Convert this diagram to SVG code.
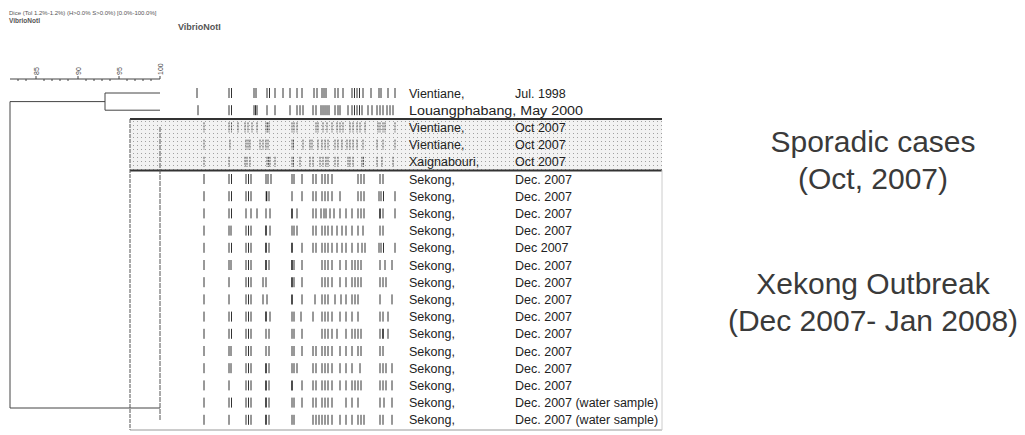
<svg xmlns="http://www.w3.org/2000/svg" width="1025" height="435" viewBox="0 0 1025 435">
<style>
.lbl{font-family:"Liberation Sans",Arial,sans-serif;font-size:12.5px;fill:#222}
.big{font-family:"Liberation Sans",Arial,sans-serif;font-size:30px;fill:#3a3a3a;text-anchor:middle}
.hdr{font-family:"Liberation Sans",Arial,sans-serif;fill:#555}
.ax{font-family:"Liberation Sans",Arial,sans-serif;font-size:7px;fill:#444}
.b{stroke:#333;stroke-width:1;fill:none}
.bt{stroke:#222;stroke-width:1.6;fill:none}
.bs{stroke:#555;stroke-width:1;fill:none;stroke-dasharray:2 1}
.ln{stroke:#444;stroke-width:1;fill:none}
</style>
<defs>
<pattern id="dots" width="4" height="4" patternUnits="userSpaceOnUse">
<rect width="4" height="4" fill="#f2f2f2"/>
<rect x="1" y="1" width="1" height="1" fill="#a0a0a0"/>
</pattern>
</defs>
<rect width="1025" height="435" fill="#fff"/>
<g id="header">
<text class="hdr" x="9" y="15" font-size="6">Dice (Tol 1.2%-1.2%) (H&gt;0.0% S&gt;0.0%) [0.0%-100.0%]</text>
<text class="hdr" x="9" y="23" font-size="6.5" font-weight="bold" fill="#333">VibrioNotI</text>
<text class="hdr" x="178" y="30" font-size="9" font-weight="bold" fill="#333">VibrioNotI</text>
</g>
<g id="axis">
<path class="ln" d="M10 79H160M36 79v-3M78 79v-3M119 79v-3M160 79v-3M18 79v2M26 79v2M44 79v2M52 79v2M60 79v2M68 79v2M86 79v2M94 79v2M102 79v2M110 79v2M127 79v2M135 79v2M143 79v2M151 79v2"/>
<text class="ax" transform="translate(38.5,75) rotate(-90)">85</text>
<text class="ax" transform="translate(80.5,75) rotate(-90)">90</text>
<text class="ax" transform="translate(121.5,75) rotate(-90)">95</text>
<text class="ax" transform="translate(162.5,75) rotate(-90)">100</text>
</g>
<g id="sporadic-box">
<rect x="130" y="119" width="532" height="51.4" fill="url(#dots)"/>
<path d="M130 119H662M130 170.4H662" stroke="#333" stroke-width="2"/>
</g>
<g id="frame">
<path d="M130 119V430" stroke="#555" stroke-width="1" stroke-dasharray="4 1"/>
<path d="M130 430H662" stroke="#999" stroke-width="1.2"/>
<path d="M662 170V430" stroke="#ccc" stroke-width="1"/>
</g>
<g id="connectors">
<path class="ln" d="M105 93H160M105 110.2H160M105 93V110.2M10 101.6H105M10 101.6V408M10 408H160"/>
<path d="M160 127V420" stroke="#555" stroke-width="1" stroke-dasharray="5 1"/>
</g>
<g id="bands">
<g transform="translate(0,93)"><path class="b" d="M197-5v10M229-5v10M231.5-5v10M254-5v10M256-5v10M267-5v10M269.5-5v10M275-5v10M283-5v10M290-5v10M297-5v10M302-5v10M314-5v10M317-5v10M322-5v10M324-5v10M326-5v10M335-5v10M338-5v10M343-5v10M352-5v10M354.5-5v10M357-5v10M359.5-5v10M363-5v10M371-5v10M379-5v10M381-5v10M388-5v10M395-5v10"/></g>
<g transform="translate(0,110.2)"><path class="b" d="M198-5v10M229-5v10M231.5-5v10M254-5v10M255.5-5v10M257-5v10M267-5v10M275-5v10M290-5v10M297-5v10M300-5v10M303-5v10M313-5v10M316-5v10M321-5v10M323-5v10M325-5v10M327-5v10M329-5v10M335-5v10M338-5v10M340-5v10M348-5v10M352-5v10M354.5-5v10M357-5v10M359.5-5v10M362-5v10M368-5v10M372-5v10M377-5v10M380-5v10M383-5v10M387-5v10M390-5v10M393-5v10"/></g>
<g transform="translate(0,127.4)"><path class="bs" d="M204-5v10M229-5v10M231.5-5v10M238-5v10M245-5v10M248-5v10M252-5v10M257-5v10M266-5v10M267.5-5v10M269-5v10M292-5v10M294-5v10M297-5v10M316-5v10M318-5v10M323-5v10M327-5v10M332-5v10M337-5v10M340-5v10M343-5v10M350-5v10M353-5v10M357-5v10M360-5v10M365-5v10M378-5v10M380-5v10M383-5v10M385-5v10M395-5v10"/></g>
<g transform="translate(0,144.6)"><path class="bs" d="M204-5v10M230-5v10M246-5v10M248-5v10M250-5v10M260-5v10M263-5v10M266-5v10M268-5v10M292-5v10M293.5-5v10M303-5v10M310-5v10M312-5v10M318-5v10M322-5v10M325-5v10M328-5v10M335-5v10M338-5v10M342-5v10M347-5v10M350-5v10M353-5v10M357-5v10M363-5v10M377-5v10M383-5v10M395-5v10"/></g>
<g transform="translate(0,161.8)"><path class="bs" d="M204-5v10M229-5v10M245-5v10M247-5v10M250-5v10M267-5v10M268.5-5v10M270-5v10M275-5v10M292-5v10M293.5-5v10M300-5v10M310-5v10M313-5v10M320-5v10M323-5v10M326-5v10M328-5v10M335-5v10M338-5v10M348-5v10M350-5v10M353-5v10M362-5v10M363.5-5v10M377-5v10M382-5v10M393-5v10"/></g>
<g transform="translate(0,179)"><path class="b" d="M204-5v10M229-5v10M231.5-5v10M246-5v10M248.5-5v10M251-5v10M266-5v10M268-5v10M271-5v10M292-5v10M294-5v10M302-5v10M313-5v10M316-5v10M322-5v10M325-5v10M328-5v10M332-5v10M358-5v10M361-5v10M364-5v10M380-5v10M383-5v10"/></g>
<g transform="translate(0,196.2)"><path class="b" d="M204-5v10M229-5v10M231.5-5v10M246-5v10M248.5-5v10M251-5v10M269-5v10M292-5v10M302-5v10M313-5v10M316-5v10M322-5v10M325-5v10M328-5v10M332-5v10M340-5v10M358-5v10M361-5v10M364-5v10M379-5v10M381-5v10M383.5-5v10M395-5v10"/><path class="bt" d="M266.5-5v10"/></g>
<g transform="translate(0,213.4)"><path class="b" d="M204-5v10M229-5v10M231.5-5v10M246-5v10M251-5v10M257-5v10M266-5v10M270-5v10M297-5v10M313-5v10M316-5v10M321-5v10M324-5v10M326-5v10M330-5v10M334-5v10M340-5v10M346-5v10M352-5v10M358-5v10M361-5v10M364-5v10M383-5v10M395-5v10"/><path class="bt" d="M292-5v10M380-5v10"/></g>
<g transform="translate(0,230.6)"><path class="b" d="M204-5v10M229-5v10M231-5v10M246-5v10M248.5-5v10M251-5v10M270-5v10M292-5v10M294-5v10M297-5v10M313-5v10M316-5v10M322-5v10M325-5v10M328-5v10M332-5v10M337-5v10M342-5v10M346-5v10M352-5v10M358-5v10M363-5v10M380-5v10M383-5v10"/><path class="bt" d="M266-5v10"/></g>
<g transform="translate(0,247.8)"><path class="b" d="M204-5v10M229-5v10M231.5-5v10M246-5v10M248.5-5v10M251-5v10M269-5v10M302-5v10M313-5v10M316-5v10M322-5v10M325-5v10M328-5v10M332-5v10M337-5v10M342-5v10M346-5v10M352-5v10M358-5v10M362-5v10M365-5v10M379-5v10M381-5v10M383.5-5v10M395-5v10"/><path class="bt" d="M266-5v10M292-5v10"/></g>
<g transform="translate(0,265)"><path class="b" d="M204-5v10M229-5v10M231-5v10M246-5v10M248.5-5v10M251-5v10M269-5v10M294-5v10M302-5v10M322-5v10M325-5v10M328-5v10M332-5v10M340-5v10M346-5v10M352-5v10M355-5v10M358-5v10M361-5v10M380-5v10M385-5v10M392-5v10"/><path class="bt" d="M266-5v10M292-5v10"/></g>
<g transform="translate(0,282.2)"><path class="b" d="M204-5v10M229-5v10M246-5v10M248.5-5v10M251-5v10M263-5v10M266-5v10M294-5v10M302-5v10M322-5v10M325-5v10M328-5v10M332-5v10M340-5v10M346-5v10M352-5v10M355-5v10M358-5v10M361-5v10M380-5v10M383-5v10M386-5v10"/><path class="bt" d="M292-5v10"/></g>
<g transform="translate(0,299.4)"><path class="b" d="M204-5v10M229-5v10M246-5v10M248.5-5v10M251-5v10M263-5v10M267-5v10M302-5v10M315-5v10M322-5v10M325-5v10M328-5v10M335-5v10M341-5v10M346-5v10M352-5v10M355-5v10M358-5v10M380-5v10M392-5v10"/><path class="bt" d="M292-5v10"/></g>
<g transform="translate(0,316.6)"><path class="b" d="M204-5v10M229-5v10M231.5-5v10M246-5v10M248.5-5v10M251-5v10M270-5v10M292-5v10M294-5v10M301-5v10M313-5v10M322-5v10M325-5v10M328-5v10M332-5v10M340-5v10M346-5v10M352-5v10M358-5v10M380-5v10M383-5v10M388-5v10"/><path class="bt" d="M266-5v10"/></g>
<g transform="translate(0,333.8)"><path class="b" d="M204-5v10M229-5v10M231.5-5v10M246-5v10M248.5-5v10M251-5v10M266-5v10M269-5v10M292-5v10M294-5v10M302-5v10M322-5v10M325-5v10M328-5v10M332-5v10M337-5v10M346-5v10M352-5v10M355-5v10M358-5v10M361-5v10M380-5v10M388-5v10"/><path class="bt" d="M383-5v10"/></g>
<g transform="translate(0,351)"><path class="b" d="M204-5v10M229-5v10M231-5v10M246-5v10M248.5-5v10M251-5v10M266-5v10M269-5v10M292-5v10M294-5v10M302-5v10M313-5v10M316-5v10M322-5v10M325-5v10M328-5v10M332-5v10M340-5v10M346-5v10M352-5v10M358-5v10M361-5v10M380-5v10M383-5v10"/></g>
<g transform="translate(0,368.2)"><path class="b" d="M204-5v10M229-5v10M231-5v10M246-5v10M248.5-5v10M251-5v10M269-5v10M292-5v10M294-5v10M297-5v10M313-5v10M316-5v10M322-5v10M325-5v10M328-5v10M332-5v10M340-5v10M346-5v10M352-5v10M360-5v10M380-5v10M383-5v10M386-5v10M392-5v10"/><path class="bt" d="M266-5v10"/></g>
<g transform="translate(0,385.4)"><path class="b" d="M204-5v10M229-5v10M246-5v10M248.5-5v10M251-5v10M269-5v10M302-5v10M313-5v10M316-5v10M322-5v10M325-5v10M328-5v10M332-5v10M340-5v10M346-5v10M352-5v10M355-5v10M358-5v10M361-5v10M380-5v10M383-5v10M386-5v10M392-5v10"/><path class="bt" d="M266-5v10M292-5v10"/></g>
<g transform="translate(0,402.6)"><path class="b" d="M204-5v10M229-5v10M231.5-5v10M246-5v10M248.5-5v10M251-5v10M269-5v10M292-5v10M294-5v10M302-5v10M313-5v10M316-5v10M322-5v10M325-5v10M328-5v10M332-5v10M346-5v10M352-5v10M358-5v10M380-5v10M384-5v10M392-5v10"/><path class="bt" d="M266-5v10"/></g>
<g transform="translate(0,419.8)"><path class="b" d="M204-5v10M229-5v10M246-5v10M248.5-5v10M251-5v10M269-5v10M292-5v10M294-5v10M313-5v10M316-5v10M319-5v10M322-5v10M325-5v10M328-5v10M332-5v10M340-5v10M346-5v10M352-5v10M358-5v10M361-5v10M364-5v10M380-5v10M383-5v10M392-5v10"/><path class="bt" d="M266-5v10"/></g>
</g>
<g id="labels">
<g id="row0"><text class="lbl" x="409" y="97.5">Vientiane,</text><text class="lbl" x="515" y="97.5">Jul. 1998</text></g>
<g id="row1"><text class="lbl" x="409" y="114.7" textLength="174" lengthAdjust="spacingAndGlyphs">Louangphabang, May 2000</text></g>
<g id="row2"><text class="lbl" x="409" y="131.9">Vientiane,</text><text class="lbl" x="515" y="131.9">Oct 2007</text></g>
<g id="row3"><text class="lbl" x="409" y="149.1">Vientiane,</text><text class="lbl" x="515" y="149.1">Oct 2007</text></g>
<g id="row4"><text class="lbl" x="409" y="166.3">Xaignabouri,</text><text class="lbl" x="515" y="166.3">Oct 2007</text></g>
<g id="row5"><text class="lbl" x="409" y="183.5">Sekong,</text><text class="lbl" x="515" y="183.5">Dec. 2007</text></g>
<g id="row6"><text class="lbl" x="409" y="200.7">Sekong,</text><text class="lbl" x="515" y="200.7">Dec. 2007</text></g>
<g id="row7"><text class="lbl" x="409" y="217.9">Sekong,</text><text class="lbl" x="515" y="217.9">Dec. 2007</text></g>
<g id="row8"><text class="lbl" x="409" y="235.1">Sekong,</text><text class="lbl" x="515" y="235.1">Dec. 2007</text></g>
<g id="row9"><text class="lbl" x="409" y="252.3">Sekong,</text><text class="lbl" x="515" y="252.3">Dec 2007</text></g>
<g id="row10"><text class="lbl" x="409" y="269.5">Sekong,</text><text class="lbl" x="515" y="269.5">Dec. 2007</text></g>
<g id="row11"><text class="lbl" x="409" y="286.7">Sekong,</text><text class="lbl" x="515" y="286.7">Dec. 2007</text></g>
<g id="row12"><text class="lbl" x="409" y="303.9">Sekong,</text><text class="lbl" x="515" y="303.9">Dec. 2007</text></g>
<g id="row13"><text class="lbl" x="409" y="321.1">Sekong,</text><text class="lbl" x="515" y="321.1">Dec. 2007</text></g>
<g id="row14"><text class="lbl" x="409" y="338.3">Sekong,</text><text class="lbl" x="515" y="338.3">Dec. 2007</text></g>
<g id="row15"><text class="lbl" x="409" y="355.5">Sekong,</text><text class="lbl" x="515" y="355.5">Dec. 2007</text></g>
<g id="row16"><text class="lbl" x="409" y="372.7">Sekong,</text><text class="lbl" x="515" y="372.7">Dec. 2007</text></g>
<g id="row17"><text class="lbl" x="409" y="389.9">Sekong,</text><text class="lbl" x="515" y="389.9">Dec. 2007</text></g>
<g id="row18"><text class="lbl" x="409" y="407.1">Sekong,</text><text class="lbl" x="515" y="407.1">Dec. 2007 (water sample)</text></g>
<g id="row19"><text class="lbl" x="409" y="424.3">Sekong,</text><text class="lbl" x="515" y="424.3">Dec. 2007 (water sample)</text></g>
</g>
<g id="sporadic-label">
<text class="big" x="873" y="152">Sporadic cases</text>
<text class="big" x="873" y="189">(Oct, 2007)</text>
</g>
<g id="outbreak-label">
<text class="big" x="873" y="294">Xekong Outbreak</text>
<text class="big" x="873" y="331">(Dec 2007- Jan 2008)</text>
</g>
</svg>
